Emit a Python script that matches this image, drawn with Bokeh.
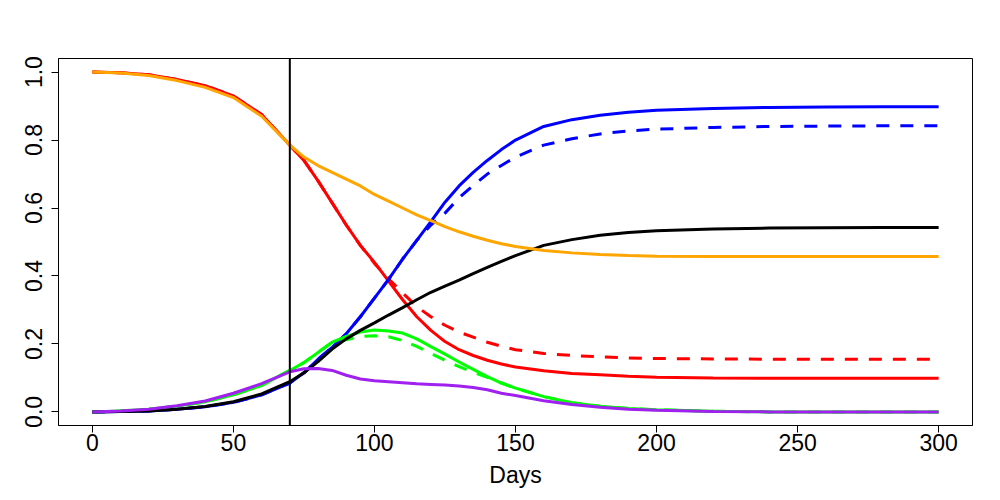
from bokeh.plotting import figure
from bokeh.models import Range1d, FixedTicker, PrintfTickFormatter, Span
from bokeh.embed import file_html
from bokeh.resources import INLINE

days = [0, 10, 20, 30, 40, 50, 60, 70, 75, 80, 85, 90, 95, 100, 105, 110, 115, 120,
        125, 130, 135, 140, 145, 150, 160, 170, 180, 190, 200, 220, 240, 260, 280, 300]

orange = [1.0, 0.997, 0.99, 0.975, 0.955, 0.925, 0.87, 0.785, 0.75, 0.725, 0.705, 0.685,
          0.665, 0.64, 0.62, 0.60, 0.58, 0.563, 0.545, 0.53, 0.517, 0.505, 0.495, 0.487,
          0.475, 0.468, 0.463, 0.46, 0.458, 0.457, 0.457, 0.457, 0.457, 0.457]

red_solid = [1.0, 0.998, 0.992, 0.978, 0.96, 0.93, 0.875, 0.785, 0.74, 0.68, 0.615, 0.55,
             0.49, 0.44, 0.385, 0.33, 0.28, 0.24, 0.207, 0.183, 0.166, 0.152, 0.141, 0.132,
             0.121, 0.113, 0.109, 0.105, 0.102, 0.1, 0.099, 0.099, 0.099, 0.099]

red_dashed = [1.0, 0.998, 0.992, 0.978, 0.96, 0.93, 0.875, 0.785, 0.74, 0.68, 0.615, 0.55,
              0.49, 0.437, 0.392, 0.35, 0.31, 0.28, 0.255, 0.235, 0.22, 0.205, 0.193, 0.183,
              0.172, 0.166, 0.162, 0.159, 0.157, 0.156, 0.155, 0.155, 0.155, 0.155]

blue_solid = [0.0, 0.001, 0.003, 0.008, 0.015, 0.028, 0.05, 0.085, 0.115, 0.155, 0.19, 0.23,
              0.28, 0.335, 0.39, 0.45, 0.505, 0.56, 0.617, 0.665, 0.705, 0.74, 0.772, 0.80,
              0.84, 0.86, 0.873, 0.882, 0.888, 0.893, 0.896, 0.897, 0.898, 0.898]

blue_dashed = [0.0, 0.001, 0.003, 0.008, 0.015, 0.028, 0.05, 0.085, 0.115, 0.155, 0.19, 0.23,
               0.28, 0.335, 0.39, 0.45, 0.505, 0.55, 0.585, 0.63, 0.666, 0.70, 0.725, 0.75,
               0.785, 0.804, 0.818, 0.827, 0.832, 0.837, 0.84, 0.841, 0.842, 0.842]

black = [0.0, 0.001, 0.003, 0.008, 0.016, 0.03, 0.053, 0.089, 0.115, 0.148, 0.185, 0.215,
         0.24, 0.262, 0.285, 0.307, 0.33, 0.352, 0.37, 0.388, 0.407, 0.425, 0.443, 0.46,
         0.49, 0.507, 0.52, 0.528, 0.533, 0.538, 0.541, 0.542, 0.543, 0.543]

green_solid = [0.0, 0.003, 0.008, 0.017, 0.03, 0.05, 0.078, 0.122, 0.145, 0.175, 0.205, 0.222,
               0.235, 0.241, 0.238, 0.232, 0.215, 0.192, 0.17, 0.147, 0.125, 0.104, 0.085, 0.07,
               0.045, 0.027, 0.017, 0.01, 0.006, 0.002, 0.0, 0.0, 0.0, 0.0]

green_dashed = [0.0, 0.003, 0.008, 0.017, 0.03, 0.05, 0.078, 0.122, 0.145, 0.175, 0.205, 0.212,
                0.222, 0.224, 0.221, 0.21, 0.193, 0.172, 0.152, 0.133, 0.117, 0.102, 0.085, 0.07,
                0.045, 0.027, 0.017, 0.01, 0.006, 0.002, 0.0, 0.0, 0.0, 0.0]

purple = [0.0, 0.003, 0.008, 0.018, 0.032, 0.055, 0.083, 0.118, 0.127, 0.128, 0.122, 0.108,
          0.097, 0.092, 0.089, 0.086, 0.083, 0.081, 0.079, 0.076, 0.072, 0.065, 0.055, 0.048,
          0.033, 0.022, 0.014, 0.008, 0.005, 0.001, 0.0, 0.0, 0.0, 0.0]

x_ticks = [0, 50, 100, 150, 200, 250, 300]
y_ticks = [0.0, 0.2, 0.4, 0.6, 0.8, 1.0]
cutoff_day = 70
x_label = "Days"

FONT = "Liberation Sans"

p = figure(width=991, height=491, output_backend="svg", toolbar_location=None,
           x_range=Range1d(-12, 312), y_range=Range1d(-0.04, 1.04),
           min_border_left=58, min_border_right=19, min_border_top=58, min_border_bottom=66)
p.background_fill_color = "white"
p.border_fill_color = "white"
p.outline_line_color = "black"
p.outline_line_width = 1
p.xgrid.visible = False
p.ygrid.visible = False

for ax in (p.xaxis[0], p.yaxis[0]):
    ax.major_tick_out = 7
    ax.major_tick_in = 0
    ax.minor_tick_out = 0
    ax.minor_tick_in = 0
    ax.axis_line_color = "black"
    ax.major_tick_line_color = "black"
    ax.major_label_text_font = FONT
    ax.major_label_text_font_size = "23px"
    ax.major_label_text_color = "black"
    ax.axis_label_text_font = FONT
    ax.axis_label_text_font_size = "23px"
    ax.axis_label_text_font_style = "normal"
    ax.axis_label_text_color = "black"

p.xaxis.ticker = FixedTicker(ticks=x_ticks)
p.yaxis.ticker = FixedTicker(ticks=y_ticks)
p.yaxis.formatter = PrintfTickFormatter(format="%.1f")
p.yaxis.major_label_orientation = "vertical"
p.xaxis.axis_label = x_label
p.xaxis.major_label_standoff = 1
p.xaxis.axis_label_standoff = 8
p.yaxis.major_label_standoff = 9

LW = 3
DASH = "13 11"
p.line(days, red_solid, line_color="red", line_width=LW)
p.line(days, red_dashed, line_color="red", line_width=LW, line_dash=DASH)
p.line(days, blue_solid, line_color="blue", line_width=LW)
p.line(days, blue_dashed, line_color="blue", line_width=LW, line_dash=DASH)
p.line(days, green_solid, line_color="#00FF00", line_width=LW)
p.line(days, green_dashed, line_color="#00FF00", line_width=LW, line_dash=DASH)
p.line(days, black, line_color="black", line_width=LW)
p.line(days, purple, line_color="#A020F0", line_width=LW)
p.line(days, orange, line_color="orange", line_width=LW)

p.add_layout(Span(location=cutoff_day, dimension="height", line_color="black", line_width=2))

open("out.html", "w").write(file_html(p, INLINE))
